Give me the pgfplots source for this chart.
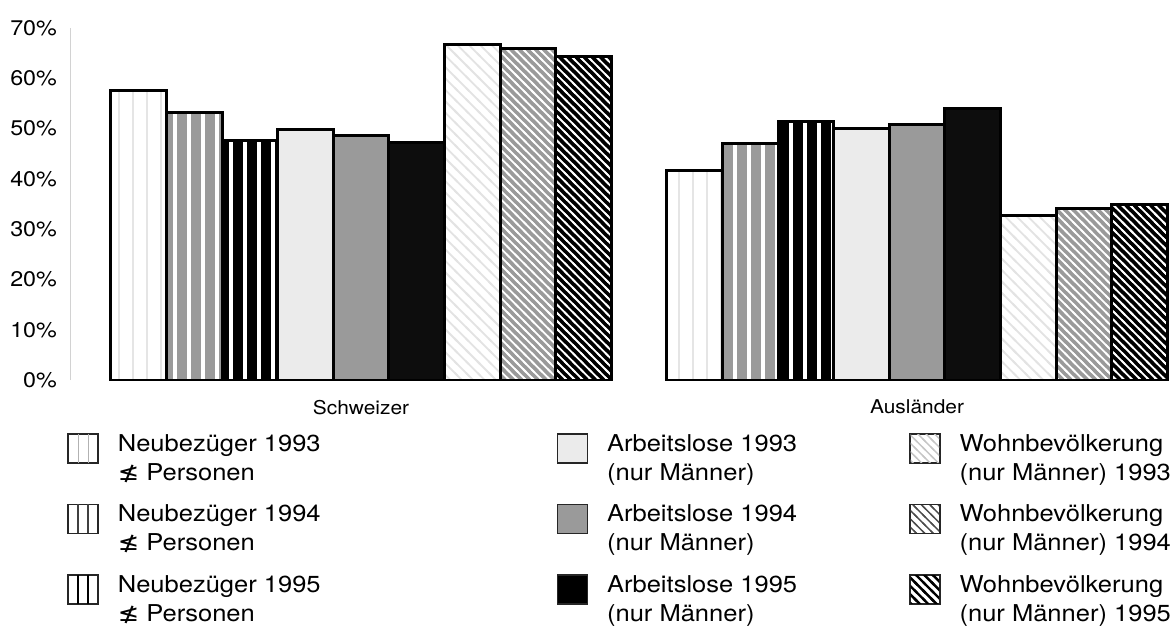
\documentclass[border=0pt]{standalone}
\usepackage{pgfplots}
\pgfplotsset{compat=1.18}
\usetikzlibrary{patterns}
\usepackage{fontspec}
\setmainfont{TeX Gyre Heros}[FakeStretch=1.1]
\newfontfamily\sym{DejaVu Sans}[FakeStretch=1.1]
\definecolor{midgray}{HTML}{9A9A9A}
\definecolor{ltgray}{HTML}{EBEBEB}
\newcommand{\lent}[2]{\begin{tabular}[t]{@{}l@{}}#1\\#2\end{tabular}}
\newcommand{\icon}[1]{\draw[black!85,line width=0.7pt,#1] (0pt,-10.07pt) rectangle (15pt,4.43pt);}
\newcommand{\iconin}{(0.35pt,-9.72pt) rectangle (14.65pt,4.08pt)}
\newcommand{\vlines}{(5pt,-10.07pt)--(5pt,4.43pt) (10pt,-10.07pt)--(10pt,4.43pt)}
% vertical stripes, period 7pt
\pgfdeclarepatternformonly{vthick}{\pgfqpoint{0pt}{-0.5pt}}{\pgfqpoint{7pt}{7.5pt}}{\pgfqpoint{7pt}{7pt}}{%
  \pgfsetlinewidth{1.8pt}\pgfpathmoveto{\pgfqpoint{3.5pt}{-0.5pt}}\pgfpathlineto{\pgfqpoint{3.5pt}{7.5pt}}\pgfusepath{stroke}}
\pgfdeclarepatternformonly{vthin}{\pgfqpoint{0pt}{-0.5pt}}{\pgfqpoint{7pt}{7.5pt}}{\pgfqpoint{7pt}{7pt}}{%
  \pgfsetlinewidth{1pt}\pgfpathmoveto{\pgfqpoint{3.5pt}{-0.5pt}}\pgfpathlineto{\pgfqpoint{3.5pt}{7.5pt}}\pgfusepath{stroke}}
% diagonal "\" stripes
\pgfdeclarepatternformonly{dtight}{\pgfqpoint{-1pt}{-1pt}}{\pgfqpoint{5.1pt}{5.1pt}}{\pgfqpoint{4.1pt}{4.1pt}}{%
  \pgfsetlinewidth{0.9pt}\pgfpathmoveto{\pgfqpoint{-1pt}{5.1pt}}\pgfpathlineto{\pgfqpoint{5.1pt}{-1pt}}\pgfusepath{stroke}}
\pgfdeclarepatternformonly{dwide}{\pgfqpoint{-1pt}{-1pt}}{\pgfqpoint{6.7pt}{6.7pt}}{\pgfqpoint{5.7pt}{5.7pt}}{%
  \pgfsetlinewidth{0.9pt}\pgfpathmoveto{\pgfqpoint{-1pt}{6.7pt}}\pgfpathlineto{\pgfqpoint{6.7pt}{-1pt}}\pgfusepath{stroke}}
\pgfdeclarepatternformonly{dicon}{\pgfqpoint{-1pt}{-1pt}}{\pgfqpoint{5.2pt}{5.2pt}}{\pgfqpoint{4.2pt}{4.2pt}}{%
  \pgfsetlinewidth{0.7pt}\pgfpathmoveto{\pgfqpoint{-1pt}{5.2pt}}\pgfpathlineto{\pgfqpoint{5.2pt}{-1pt}}\pgfusepath{stroke}}
\pgfdeclarepatternformonly{diconb}{\pgfqpoint{-1pt}{-1pt}}{\pgfqpoint{5.2pt}{5.2pt}}{\pgfqpoint{4.2pt}{4.2pt}}{%
  \pgfsetlinewidth{1.2pt}\pgfpathmoveto{\pgfqpoint{-1pt}{5.2pt}}\pgfpathlineto{\pgfqpoint{5.2pt}{-1pt}}\pgfusepath{stroke}}

\begin{document}
\begin{tikzpicture}
\begin{axis}[name=ax,
  scale only axis, width=550pt, height=176pt,
  xmin=-0.5234, xmax=1.455, ymin=0, ymax=70,
  xtick={0,1}, xticklabels={Schweizer,Ausländer},
  ytick={0,10,...,70}, yticklabels={0\%,10\%,20\%,30\%,40\%,50\%,60\%,70\%},
  major tick length=0pt,
  axis lines*=left,
  x axis line style={draw=none},
  y axis line style={draw=gray!35, line width=0.5pt},
  yticklabel style={font=\fontsize{10.6}{12}\selectfont, xshift=-3pt},
  xticklabel style={font=\fontsize{9.5}{11}\selectfont, yshift=-6.5pt},
  every axis plot/.append style={ybar, bar width=0.1, bar shift=0pt, line width=1.5pt},
  legend columns=3, transpose legend,
  legend cell align=left,
  legend style={draw=none, fill=none, inner sep=0pt, at={(-0.0027,-0.144)}, anchor=north west,
    font=\fontsize{11.6}{14.5}\selectfont, nodes={inner sep=0pt}, row sep=19pt,
    /tikz/column 1/.style={column sep=9.5pt},
    /tikz/column 3/.style={column sep=9.5pt},
    /tikz/column 5/.style={column sep=9.5pt},
    /tikz/column 2/.style={column sep=118pt},
    /tikz/column 4/.style={column sep=56pt}},
]
% Neubezueger 1993
\addplot[fill=white, draw=none,
  legend image code/.code={\icon{fill=white}\draw[gray!60,line width=0.5pt] \vlines;}]
  coordinates {(-0.4,57.5) (0.6,41.7)};
\addlegendentry{\lent{Neubezüger 1993}{{\sym ≰} Personen}}
\addplot[forget plot, draw=black, pattern=vthin, pattern color=gray!20]
  coordinates {(-0.4,57.5) (0.6,41.7)};
% Neubezueger 1994
\addplot[fill=midgray, draw=none,
  legend image code/.code={\icon{fill=white}\draw[black!75,line width=0.7pt] \vlines;}]
  coordinates {(-0.3,53.1) (0.7,47.1)};
\addlegendentry{\lent{Neubezüger 1994}{{\sym ≰} Personen}}
\addplot[forget plot, draw=black, pattern=vthick, pattern color=white]
  coordinates {(-0.3,53.1) (0.7,47.1)};
% Neubezueger 1995
\addplot[fill=black, draw=none,
  legend image code/.code={\icon{fill=white}\draw[black,line width=1.3pt] \vlines;}]
  coordinates {(-0.2,47.7) (0.8,51.5)};
\addlegendentry{\lent{Neubezüger 1995}{{\sym ≰} Personen}}
\addplot[forget plot, draw=black, pattern=vthick, pattern color=white]
  coordinates {(-0.2,47.7) (0.8,51.5)};
% Arbeitslose
\addplot[fill=ltgray, draw=black,
  legend image code/.code={\icon{fill=ltgray}}]
  coordinates {(-0.1,49.9) (0.9,50.0)};
\addlegendentry{\lent{Arbeitslose 1993}{(nur Männer)}}
\addplot[fill=midgray, draw=black,
  legend image code/.code={\icon{fill=midgray}}]
  coordinates {(0,48.6) (1,50.8)};
\addlegendentry{\lent{Arbeitslose 1994}{(nur Männer)}}
\addplot[fill=black!95, draw=black,
  legend image code/.code={\icon{fill=black}}]
  coordinates {(0.1,47.3) (1.1,54.0)};
\addlegendentry{\lent{Arbeitslose 1995}{(nur Männer)}}
% Wohnbevoelkerung 1993
\addplot[fill=white, draw=none,
  legend image code/.code={\icon{fill=white}\fill[pattern=dicon, pattern color=gray!45] \iconin;}]
  coordinates {(0.2,66.8) (1.2,32.7)};
\addlegendentry{\lent{Wohnbevölkerung}{(nur Männer) 1993}}
\addplot[forget plot, draw=black, pattern=dwide, pattern color=gray!22]
  coordinates {(0.2,66.8) (1.2,32.7)};
% Wohnbevoelkerung 1994
\addplot[fill=midgray, draw=none,
  legend image code/.code={\icon{fill=white}\fill[pattern=dicon, pattern color=black!70] \iconin;}]
  coordinates {(0.3,66.0) (1.3,34.1)};
\addlegendentry{\lent{Wohnbevölkerung}{(nur Männer) 1994}}
\addplot[forget plot, draw=black, pattern=dtight, pattern color=white]
  coordinates {(0.3,66.0) (1.3,34.1)};
% Wohnbevoelkerung 1995
\addplot[fill=black, draw=none,
  legend image code/.code={\icon{fill=white}\fill[pattern=diconb, pattern color=black] \iconin;}]
  coordinates {(0.4,64.4) (1.4,34.9)};
\addlegendentry{\lent{Wohnbevölkerung}{(nur Männer) 1995}}
\addplot[forget plot, draw=black, pattern=dtight, pattern color=white]
  coordinates {(0.4,64.4) (1.4,34.9)};
\end{axis}
\path ([xshift=-35pt,yshift=-122.5pt]ax.south west) rectangle ([xshift=2pt,yshift=14pt]ax.north east);
\end{tikzpicture}
\end{document}
